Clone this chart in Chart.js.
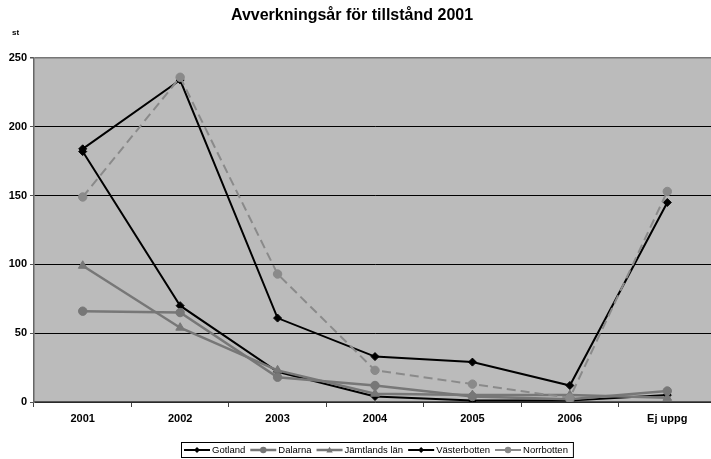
<!DOCTYPE html>
<html>
<head>
<meta charset="utf-8">
<script src="https://cdn.jsdelivr.net/npm/chart.js@4.4.0/dist/chart.umd.min.js"></script>
<style>
    html, body { margin: 0; padding: 0; background: #fff; overflow: hidden; }
    canvas { display: block; }
</style>
</head>
<body>
<canvas id="chart" width="722" height="459"></canvas>
<script>
// --- Data ---
const categories = ['2001', '2002', '2003', '2004', '2005', '2006', 'Ej uppg'];
const gotland = [182, 70, 22, 4, 1, 1, 5];
const dalarna = [66, 65, 18, 12, 4, 2, 8];
const jamtland = [99, 54, 23, 6, 5, 5, 3];
const vasterbotten = [184, 234, 61, 33, 29, 12, 145];
const norrbotten = [149, 236, 93, 23, 13, 3, 153];
const yMax = 250;
const yStep = 50;

const FONT = '"Liberation Sans", Arial, sans-serif';

// --- Small marker helper (used by the legend) ---
function drawMarker(ctx, style, x, y, r, color) {
    ctx.save();
    ctx.fillStyle = color;
    ctx.beginPath();
    if (style === 'rectRot') {
        ctx.moveTo(x, y - r); ctx.lineTo(x + r, y); ctx.lineTo(x, y + r); ctx.lineTo(x - r, y);
    } else if (style === 'triangle') {
        ctx.moveTo(x, y - r); ctx.lineTo(x + r, y + r * 0.8); ctx.lineTo(x - r, y + r * 0.8);
    } else {
        ctx.arc(x, y, r, 0, Math.PI * 2);
    }
    ctx.closePath();
    ctx.fill();
    ctx.restore();
}

// --- Plot background, title, unit label and legend ---
const excelLook = {
    id: 'excelLook',
    beforeDraw(chart) {
        const { ctx, chartArea: a } = chart;
        ctx.save();
        ctx.fillStyle = '#fff';
        ctx.fillRect(0, 0, chart.width, chart.height);
        ctx.fillStyle = '#bbbbbb';
        ctx.fillRect(a.left, a.top, a.right - a.left, a.bottom - a.top);
        ctx.restore();
    },
    afterDraw(chart) {
        const ctx = chart.ctx;
        ctx.save();
        ctx.fillStyle = '#000';
        ctx.textAlign = 'center';
        ctx.textBaseline = 'alphabetic';
        ctx.font = 'bold 16px ' + FONT;
        ctx.fillText('Avverkningsår för tillstånd 2001', 352, 19.5);
        ctx.font = 'bold 8px ' + FONT;
        ctx.fillText('st', 15.5, 35);

        // legend
        ctx.font = '9.5px ' + FONT;
        const lineLen = 26, gap = 2, spacing = 5;
        const sets = chart.data.datasets;
        let total = 0;
        sets.forEach((ds, i) => {
            total += lineLen + gap + ctx.measureText(ds.label).width + (i ? spacing : 0);
        });
        const cx = 377, y = 450;
        const boxW = total + 8;
        const left = Math.round(cx - boxW / 2);
        ctx.strokeStyle = '#000';
        ctx.lineWidth = 1;
        ctx.strokeRect(left + 0.5, 442.5, boxW, 15);
        let x = left + 3;
        ctx.textAlign = 'left';
        ctx.textBaseline = 'middle';
        sets.forEach(ds => {
            ctx.strokeStyle = ds.borderColor;
            ctx.lineWidth = ds.borderWidth;
            ctx.beginPath();
            ctx.moveTo(x, y);
            ctx.lineTo(x + lineLen, y);
            ctx.stroke();
            drawMarker(ctx, ds.pointStyle, x + lineLen / 2, y, ds.pointStyle === 'rectRot' ? 3 : 3.2, ds.pointBackgroundColor);
            x += lineLen + gap;
            ctx.fillStyle = '#000';
            ctx.fillText(ds.label, x, y + 0.5);
            x += ctx.measureText(ds.label).width + spacing;
        });
        ctx.restore();
    }
};

function series(label, data, color, style, radius, width, dash, order) {
    return {
        label: label,
        data: data,
        borderColor: color,
        backgroundColor: color,
        pointBackgroundColor: color,
        pointBorderColor: color,
        pointStyle: style,
        pointRadius: radius,
        pointBorderWidth: 1,
        borderWidth: width,
        borderDash: dash,
        tension: 0,
        order: order
    };
}

new Chart(document.getElementById('chart').getContext('2d'), {
    type: 'line',
    data: {
        labels: categories,
        datasets: [
            series('Gotland', gotland, '#000000', 'rectRot', 4, 2, undefined, 5),
            series('Dalarna', dalarna, '#777777', 'circle', 4.2, 2.5, undefined, 4),
            series('Jämtlands län', jamtland, '#777777', 'triangle', 5, 2.5, undefined, 3),
            series('Västerbotten', vasterbotten, '#000000', 'rectRot', 4, 2, undefined, 2),
            series('Norrbotten', norrbotten, '#8a8a8a', 'circle', 4.2, 2, [9, 5], 1)
        ]
    },
    options: {
        responsive: false,
        animation: false,
        layout: { padding: { top: 58, right: 2, bottom: 0, left: 0 } },
        plugins: {
            legend: { display: false },
            title: { display: false },
            tooltip: { enabled: false }
        },
        scales: {
            x: {
                offset: true,
                grid: {
                    offset: true,
                    drawOnChartArea: false,
                    drawTicks: true,
                    tickLength: 5,
                    color: '#444'
                },
                border: { color: '#555', width: 1.5 },
                ticks: {
                    color: '#000',
                    font: { family: FONT, weight: 'bold', size: 11 },
                    padding: 5,
                    maxRotation: 0,
                    autoSkip: false
                },
                afterFit(scale) { scale.height = 57; }
            },
            y: {
                min: 0,
                max: yMax,
                ticks: {
                    stepSize: yStep,
                    color: '#000',
                    font: { family: FONT, weight: 'bold', size: 11 },
                    padding: 3
                },
                grid: {
                    color: c => (c.tick && c.tick.value === yMax) ? '#777' : '#000',
                    lineWidth: c => (c.tick && c.tick.value === yMax) ? 1.5 : 1,
                    tickColor: '#555',
                    tickLength: 4
                },
                border: { color: '#666', width: 1.5 },
                afterFit(scale) { scale.width = 34; }
            }
        }
    },
    plugins: [excelLook]
});
</script>
</body>
</html>
